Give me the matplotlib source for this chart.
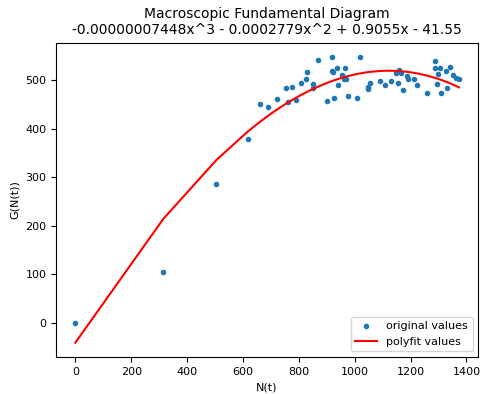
import numpy as np
import matplotlib
matplotlib.use("Agg")
import matplotlib.pyplot as plt

# observed accumulation N(t) and production G(N(t))
n_vals = [0, 315, 505, 617, 661, 690, 722, 754, 760, 774, 789, 806, 827, 830,
          849, 851, 869, 902, 917, 920, 922, 925, 937, 940, 956, 961, 967, 970,
          976, 1008, 1020, 1047, 1047, 1056, 1090, 1110, 1129, 1149, 1156, 1158,
          1164, 1173, 1188, 1190, 1214, 1224, 1258, 1286, 1288, 1296, 1298, 1306,
          1310, 1328, 1329, 1342, 1351, 1364, 1373]
g_vals = [0, 104, 285, 379, 450, 445, 462, 483, 454, 486, 459, 495, 503, 517,
          492, 484, 541, 457, 519, 547, 516, 464, 526, 490, 510, 503, 525, 503,
          468, 464, 548, 485, 481, 495, 498, 490, 499, 514, 495, 521,
          514, 479, 508, 503, 503, 490, 474, 539, 524, 493, 512, 525,
          473, 519, 484, 527, 510, 505, 502]

# cubic fit coefficients (highest power first)
coefs = [-0.00000007448, -0.0002779, 0.9055, -41.55]

x = np.array(n_vals, dtype=float)
y = np.array(g_vals, dtype=float)
order = np.argsort(x)
fit = np.polyval(coefs, x[order])

fig = plt.figure(figsize=(4.8, 3.94), dpi=100)
ax = fig.add_axes([0.117, 0.094, 0.879, 0.798])

ax.plot(x, y, '.', color='#1f77b4', label='original values')
ax.plot(x[order], fit, color='red', label='polyfit values')

ax.set_title("Macroscopic Fundamental Diagram\n"
             "-0.00000007448x^3 - 0.0002779x^2 + 0.9055x - 41.55", fontsize=10)
ax.set_xlabel("N(t)", fontsize=8)
ax.set_ylabel("G(N(t))", fontsize=8)
ax.tick_params(labelsize=8)
ax.legend(loc='lower right', fontsize=8)

fig.savefig("out.png", dpi=100)
